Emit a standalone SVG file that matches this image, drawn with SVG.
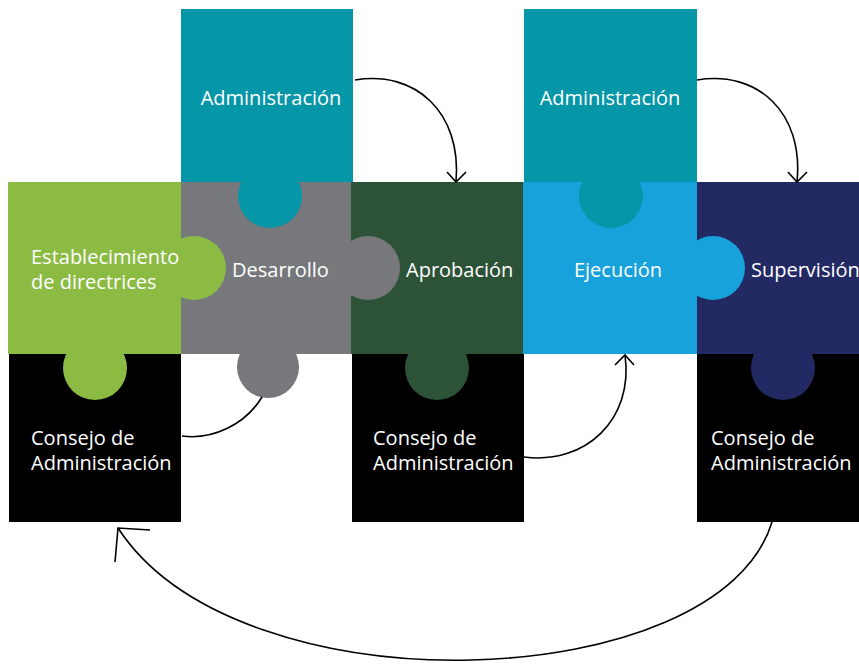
<svg xmlns="http://www.w3.org/2000/svg" width="859" height="664" viewBox="0 0 859 664">
<style>
.t{font-family:"Open Sans","Noto Sans","Liberation Sans",sans-serif;font-size:20px;fill:#ffffff}
.c{text-anchor:middle}
.ln{fill:none;stroke:#000;stroke-width:1.6}
</style>
<rect width="859" height="664" fill="#fff"/>
<g id="admin1"><rect x="181" y="9" width="172" height="173" fill="#0596A8"/><text class="t c" x="271" y="105">Administración</text></g>
<g id="admin2"><rect x="524" y="9" width="173" height="173" fill="#0596A8"/><text class="t c" x="610" y="105">Administración</text></g>
<g id="consejo1"><rect x="9" y="354" width="172" height="168" fill="#000"/><text class="t" x="31" y="445">Consejo de</text><text class="t" x="31" y="470">Administración</text></g>
<g id="consejo2"><rect x="352" y="354" width="172" height="168" fill="#000"/><text class="t" x="373" y="445">Consejo de</text><text class="t" x="373" y="470">Administración</text></g>
<g id="consejo3"><rect x="697" y="354" width="162" height="168" fill="#000"/><text class="t" x="711" y="445">Consejo de</text><text class="t" x="711" y="470">Administración</text></g>
<g id="establecimiento"><rect x="8" y="182" width="173" height="172" fill="#8BBB43"/></g>
<g id="desarrollo"><rect x="181" y="182" width="170" height="172" fill="#77787C"/></g>
<g id="aprobacion"><rect x="351" y="182" width="172" height="172" fill="#2C5338"/></g>
<g id="ejecucion"><rect x="523" y="182" width="174" height="172" fill="#17A2DC"/></g>
<g id="supervision"><rect x="697" y="182" width="162" height="172" fill="#232A63"/></g>
<g id="knobs">
<circle cx="270" cy="196" r="32" fill="#0596A8"/>
<circle cx="611" cy="196" r="32" fill="#0596A8"/>
<circle cx="194" cy="268" r="32" fill="#8BBB43"/>
<circle cx="368" cy="268" r="32" fill="#77787C"/>
<circle cx="713" cy="268" r="32" fill="#17A2DC"/>
<circle cx="95" cy="368" r="32" fill="#8BBB43"/>
<circle cx="268" cy="367" r="31" fill="#77787C"/>
<circle cx="437" cy="368" r="32" fill="#2C5338"/>
<circle cx="783" cy="368" r="32" fill="#232A63"/>
</g>
<g id="labels">
<text class="t" x="31" y="264">Establecimiento</text>
<text class="t" x="31" y="289">de directrices</text>
<text class="t" x="232" y="277">Desarrollo</text>
<text class="t" x="406" y="277">Aprobación</text>
<text class="t c" x="618" y="277">Ejecución</text>
<text class="t" x="751" y="277">Supervisión</text>
</g>
<g id="connectors">
<path class="ln" d="M355,80 C415,70 462,112 456,182"/>
<polyline class="ln" points="447,172 456,182 466,172"/>
<path class="ln" d="M697,80 C757,70 804,112 797,182"/>
<polyline class="ln" points="788,172 797,182 807,172"/>
<path class="ln" d="M262,397 C245,425 212,440 182,436"/>
<path class="ln" d="M524,457 C585,465 634,420 625,355"/>
<polyline class="ln" points="615,365 625,355 634,365"/>
<path class="ln" d="M772,522 C720,695 240,715 118,528"/>
<polyline class="ln" points="150,530 118,528 115,562"/>
</g>
</svg>
